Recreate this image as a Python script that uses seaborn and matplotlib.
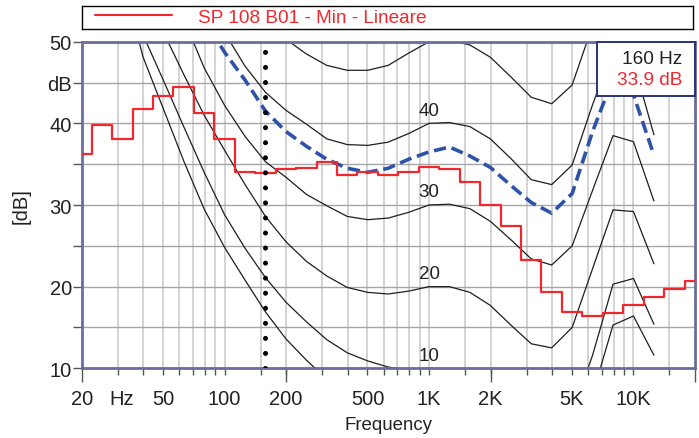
import numpy as np
import pandas as pd
import matplotlib
matplotlib.use('Agg')
import matplotlib.pyplot as plt
from matplotlib.lines import Line2D
from matplotlib.ticker import FixedLocator, FixedFormatter, NullFormatter, NullLocator
import seaborn as sns

sns.set_theme(style="white")
plt.rcParams['font.family'] = ['Liberation Sans', 'DejaVu Sans']

# 1/3 octave bands of the measurement (Hz) and the measured level (dB)
bands = [20, 25, 31.5, 40, 50, 63, 80, 100, 125, 160, 200, 250, 315, 400, 500, 630, 800,
         1000, 1250, 1600, 2000, 2500, 3150, 4000, 5000, 6300, 8000, 10000, 12500, 16000, 20000]
spl_min = [36.2, 39.8, 38.1, 41.7, 43.4, 44.4, 41.3, 38.1, 34.0, 33.9, 34.4, 34.5, 35.3, 33.7,
           34.1, 33.7, 34.1, 34.6, 34.4, 32.8, 30.0, 27.4, 23.3, 19.3, 16.9, 16.4, 16.8, 17.8,
           18.7, 19.7, 20.7]
series_label = "SP 108 B01 - Min - Lineare"

# equal loudness contours, read at the bands 20 Hz .. 12.5 kHz
contour_bands = bands[:29]
threshold = [76, 67, 58, 48.2, 41.8, 35.4, 29.5, 24.8, 20.8, 16.9, 13.6, 11.0, 8.7, 6.2, 4.4,
             3.0, 2.2, 2.4, 3.5, 1.7, -1.3, -4.2, -6.0, -5.4, -1.5, 6.8, 15.3, 16.4, 11.6]
phon_10 = [80, 71, 61.5, 50.9, 45.3, 39.6, 34.0, 28.8, 24.7, 21.1, 18.1, 15.7, 13.5, 11.9, 10.9,
           10.15, 9.8, 10.0, 9.9, 9.0, 7.4, 5.3, 3.0, 2.5, 4.5, 11.6, 20.3, 21.0, 15.4]
phon_20 = [93, 83, 72, 61, 51.2, 46.0, 41.0, 36.7, 32.5, 28.6, 25.5, 23.1, 21.3, 19.9, 19.3,
           19.1, 19.45, 20.0, 20.0, 19.3, 17.7, 15.3, 13.0, 12.5, 15.0, 22.2, 29.4, 29.2, 22.8]
phon_30 = [100, 90, 80, 70, 61, 52.8, 46.8, 42.2, 38.4, 35.3, 33.4, 31.3, 29.9, 28.6, 28.2,
           28.4, 29.1, 30.0, 30.1, 29.55, 28.0, 25.75, 23.4, 22.65, 25.0, 31.8, 38.5, 37.75, 30.5]
phon_40 = [106, 97, 88, 80, 72, 64, 57, 51.1, 47.0, 43.8, 41.6, 39.9, 38.1, 37.4, 37.3,
           37.7, 38.75, 40.0, 40.1, 39.6, 38.1, 35.7, 33.1, 32.5, 34.9, 42.3, 49.0, 47.5, 38.6]
phon_50 = [112, 104, 96, 88, 81, 74, 67, 61, 56, 53, 50.3, 48.5, 47.1, 46.5, 46.5,
           47.1, 48.6, 50.0, 50.2, 49.6, 48.1, 45.7, 43.2, 42.4, 44.7, 52.0, 58.5, 57.5, 49.5]
loudness_curve = [90, 82, 75, 68, 62, 57.5, 52.7, 48.7, 45.3, 41.5, 39.0, 37.2, 35.6, 34.5, 34.0,
                  34.5, 35.6, 36.5, 37.1, 36.0, 34.6, 32.4, 30.3, 29.0, 31.4, 39.0, 45.5, 43.5, 36.1]
labelled_levels = [10, 20, 30, 40]

cursor_band = 160

# axis ticks
x_label_freqs = [20, 31.5, 50, 100, 200, 500, 1000, 2000, 5000, 10000]
x_labels = ['20', 'Hz', '50', '100', '200', '500', '1K', '2K', '5K', '10K']
x_long_ticks = [20, 200, 2000, 20000]
x_grid = [30, 40, 50, 60, 70, 80, 90, 100, 150, 200, 300, 400, 500, 600, 700, 800, 900,
          1000, 1500, 2000, 3000, 4000, 5000, 6000, 7000, 8000, 9000, 10000, 15000]
y_ticks = [10, 15, 20, 25, 30, 35, 40, 45, 50]
y_labels = ['10', '', '20', '', '30', '', '40', 'dB', '50']

RED = '#f0282d'
BLUE = '#2d52a8'
INK = '#1e1e1e'


def exact_centre(f):
    # preferred 1/3 octave numbers -> base-10 band centres
    return 10 ** (np.round(10 * np.log10(np.asarray(f, dtype=float))) / 10)


centres = exact_centre(bands)
lower = centres * 10 ** -0.05
upper = centres * 10 ** 0.05
steps = pd.DataFrame({'freq': np.append(lower, upper[-1]),
                      'spl': np.append(spl_min, spl_min[-1])})

cc = exact_centre(contour_bands)
contours = pd.concat([
    pd.DataFrame({'freq': cc, 'spl': vals, 'curve': name})
    for name, vals in [('thr', threshold), ('10', phon_10), ('20', phon_20),
                       ('30', phon_30), ('40', phon_40), ('50', phon_50)]
])
loud = pd.DataFrame({'freq': cc, 'spl': loudness_curve})

fig = plt.figure(figsize=(6.99, 4.39), dpi=100)
ax = fig.add_axes([0.1169, 0.1588, 0.8774, 0.7439])

sns.lineplot(data=contours, x='freq', y='spl', hue='curve', estimator=None,
             palette={k: INK for k in contours['curve'].unique()}, lw=0.9, legend=False,
             sort=False, ax=ax, zorder=2)
sns.lineplot(data=loud, x='freq', y='spl', color=BLUE, lw=2.6, estimator=None, sort=False,
             ax=ax, zorder=3).lines[-1].set_dashes((3.4, 1.6))
sns.lineplot(data=steps, x='freq', y='spl', color=RED, lw=1.6, estimator=None, sort=False,
             drawstyle='steps-post', ax=ax, zorder=4)

cursor_x = exact_centre([cursor_band])[0]
ax.axvline(cursor_x, color='black', lw=3.6, linestyle=(0, (0.01, 3.0)),
           dash_capstyle='round', zorder=5)

for lvl in labelled_levels:
    ax.text(1000, lvl + 1.6, str(lvl), ha='center', va='center', fontsize=13.5,
            color='#222222', zorder=6)

ax.set_xscale('log')
ax.set_xlim(20, 20000)
ax.set_ylim(10, 50)
ax.xaxis.set_major_locator(FixedLocator(x_label_freqs))
ax.xaxis.set_major_formatter(FixedFormatter(x_labels))
ax.xaxis.set_minor_locator(FixedLocator(x_grid))
ax.xaxis.set_minor_formatter(NullFormatter())
ax.xaxis.remove_overlapping_locs = False
ax.yaxis.set_major_locator(FixedLocator(y_ticks))
ax.yaxis.set_major_formatter(FixedFormatter(y_labels))

ax.set_axisbelow(True)
ax.grid(which='minor', axis='x', color='#d0d0d0', lw=1.3)
ax.grid(which='major', axis='x', visible=False)
ax.grid(which='major', axis='y', color='#a5a5a5', lw=1.0)

ax.tick_params(axis='x', which='major', length=0, pad=15, labelsize=14.5, labelcolor='#222222')
ax.tick_params(axis='x', which='minor', length=5, width=1, color='#555555', bottom=True,
               direction='out')
ax.tick_params(axis='y', which='major', length=6.5, width=1, color='#555555', left=True,
               direction='out', pad=0.5, labelsize=14.5, labelcolor='#222222')

sec = ax.secondary_xaxis('bottom')
sec.set_xticks(x_long_ticks)
sec.xaxis.set_minor_locator(NullLocator())
sec.tick_params(length=10, width=1, color='#555555', labelbottom=False, bottom=True)
sec.spines['bottom'].set_visible(False)

for s in ax.spines.values():
    s.set_color('#6a6e9c')
    s.set_linewidth(2)

ax.set_xlabel('Frequency', fontsize=13.4, color='#222222', labelpad=6)
ax.set_ylabel('[dB]', fontsize=14.5, color='#222222', labelpad=12)

# legend strip above the plot
leg_ax = fig.add_axes([0.1169, 0.9317, 0.8745, 0.0524])
leg_ax.set_xticks([])
leg_ax.set_yticks([])
for s in leg_ax.spines.values():
    s.set_color('black')
    s.set_linewidth(1)
leg_ax.legend(handles=[Line2D([], [], color=RED, lw=1.5)], labels=[series_label],
              loc='center left', bbox_to_anchor=(0, 0.5), frameon=False, borderpad=0,
              borderaxespad=0.7, handlelength=4.05, handletextpad=1.37, fontsize=13.7,
              labelcolor=RED)

# cursor read-out box
info = fig.add_axes([0.8536, 0.779, 0.1406, 0.1234])
info.set_xticks([])
info.set_yticks([])
info.set_facecolor('white')
for s in info.spines.values():
    s.set_color('#2c327a')
    s.set_linewidth(1.4)
cursor_val = spl_min[bands.index(cursor_band)]
info.text(0.875, 0.70, f'{cursor_band} Hz', ha='right', va='center', fontsize=13.7,
          color='#222222', transform=info.transAxes)
info.text(0.875, 0.31, f'{cursor_val:.1f} dB', ha='right', va='center', fontsize=13.7,
          color=RED, transform=info.transAxes)

fig.savefig('out.png', dpi=100)
